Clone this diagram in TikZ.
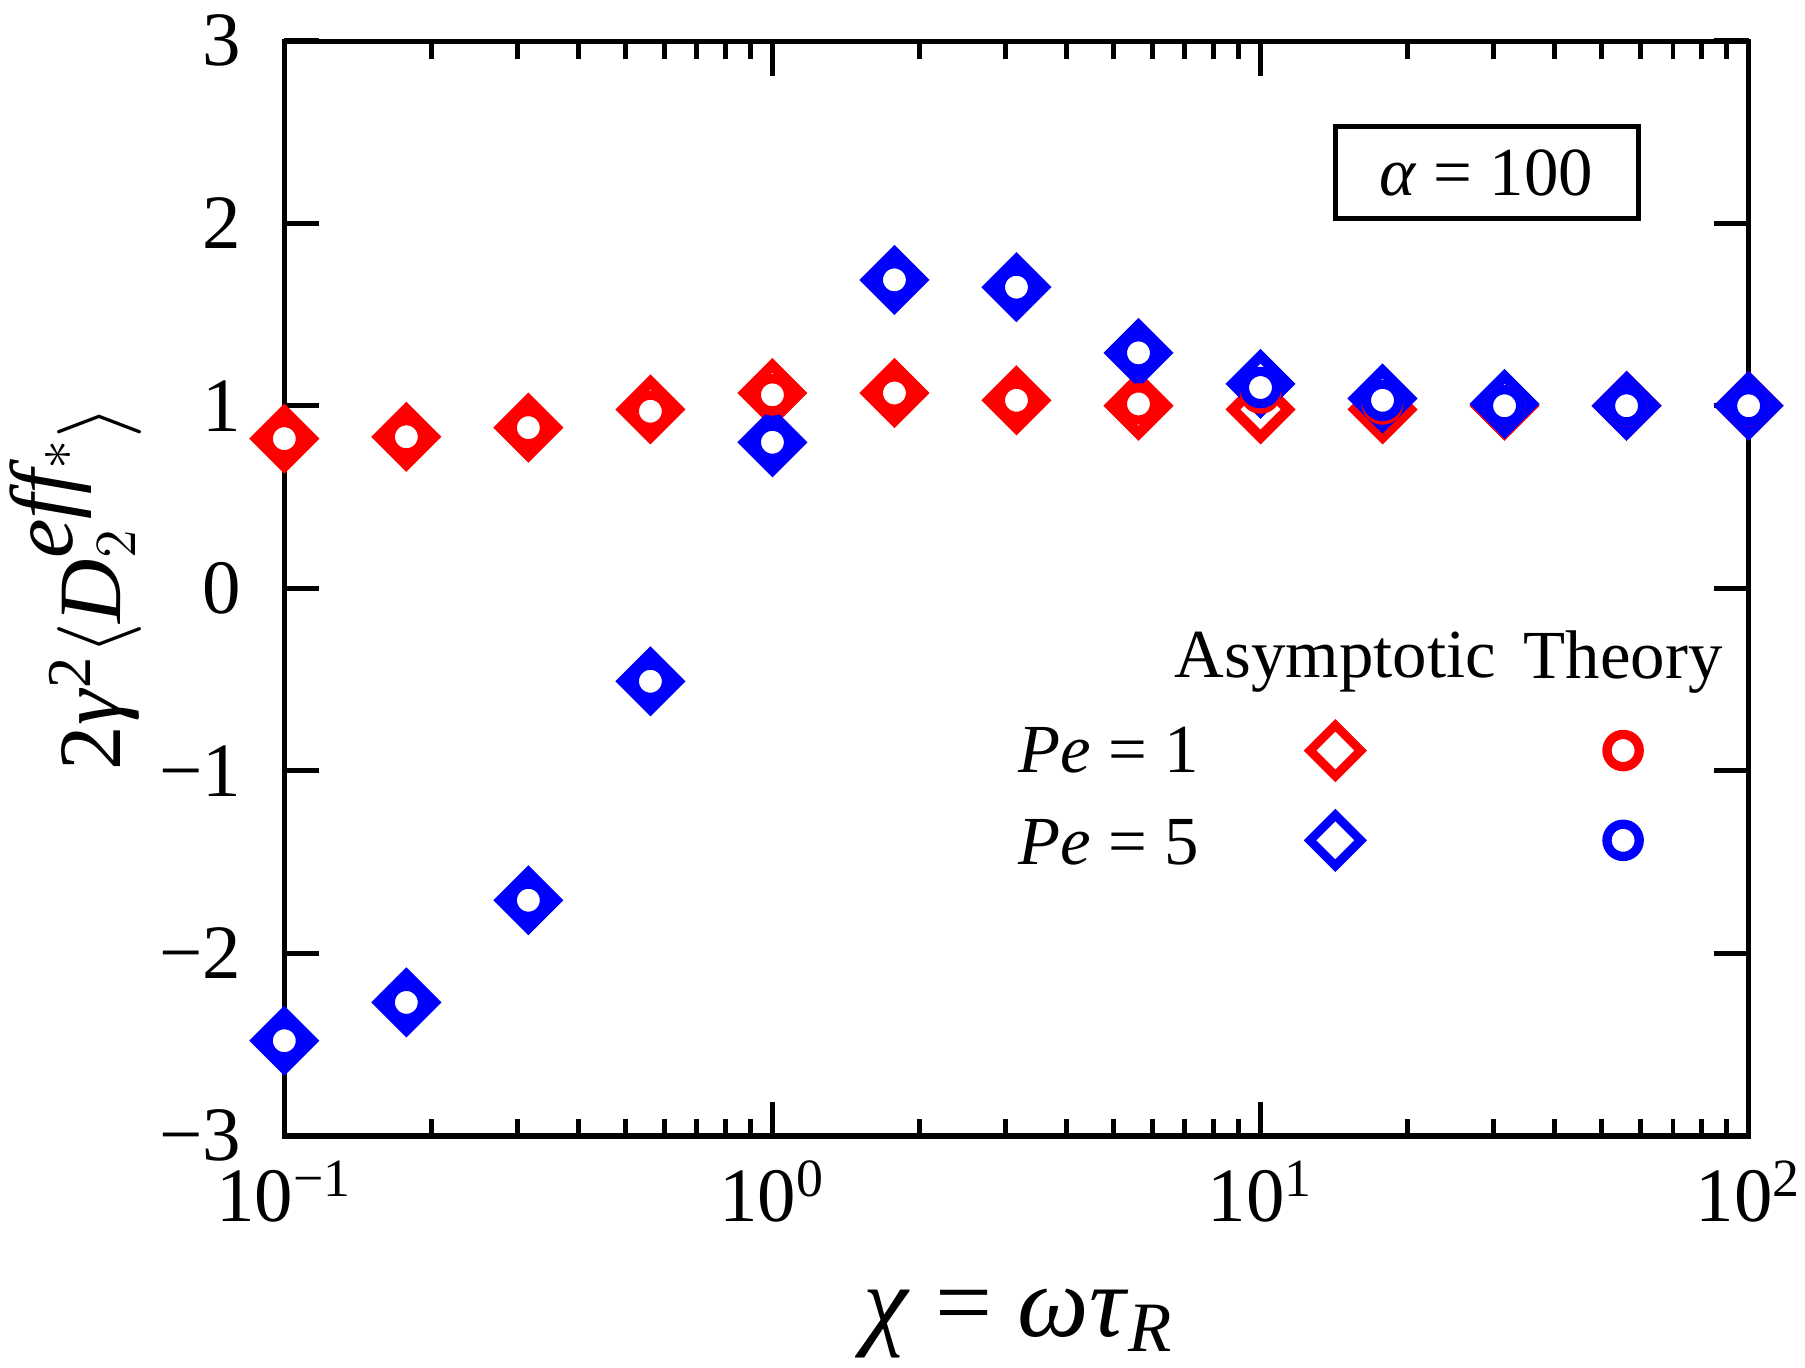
\documentclass[tikz,border=0pt]{standalone}
\usepackage{fontspec}
\setmainfont{Liberation Serif}
\begin{document}
\begin{tikzpicture}[x=0.01cm,y=-0.01cm,
  lab/.style={font=\fontsize{17}{20}\selectfont},
  rdia/.style={draw=red,line width=2.6pt,fill=white,line join=miter},
  bdia/.style={draw=blue,line width=2.6pt,fill=white,line join=miter},
  rcir/.style={draw=red,line width=2.3pt,fill=white},
  bcir/.style={draw=blue,line width=2.3pt,fill=white}]
\useasboundingbox (0,0) rectangle (1568,1188);
% ticks
\foreach \d in {0,1,2}{
  \foreach \m in {2,...,9}{
    \pgfmathsetmacro\xx{247+424*(\d+log10(\m))}
    \draw[line width=1.2pt] (\xx,987) -- (\xx,972);
    \draw[line width=1.2pt] (\xx,36) -- (\xx,51);
  }}
\foreach \d in {0,1,2,3}{
  \draw[line width=1.2pt] ({247+424*\d},987) -- ({247+424*\d},957);
  \draw[line width=1.2pt] ({247+424*\d},36) -- ({247+424*\d},66);}
\foreach \v in {-3,...,3}{
  \draw[line width=1.2pt] (247,{511-158.5*\v}) -- (277,{511-158.5*\v});
  \draw[line width=1.2pt] (1519,{511-158.5*\v}) -- (1489,{511-158.5*\v});
  \node[lab,font=\fontsize{19}{22}\selectfont,anchor=east] at (222,{511-158.5*\v}) {\ifnum\v<0 −\the\numexpr-\v\relax\else\v\fi};}
\draw[line width=1.4pt] (247,36) rectangle (1519,987);
\foreach \e/\d in {−1/0,0/1,1/2,2/3}
  \node[font=\fontsize{19}{22}\selectfont] at ({247+424*\d},1035) {10\textsuperscript{\e}};
% data
\def\pts{0/0.82/-2.48,1/0.83/-2.27,2/0.88/-1.71,3/0.98/-0.51,4/1.07/0.80,5/1.07/1.69,6/1.03/1.65,7/1.00/1.29,8/0.98/1.12,9/0.98/1.04,10/1.0/1.01,11/1.0/1.0,12/1.0/1.0}
\foreach \k/\r/\b in \pts{
  \draw[rdia] ({247+106*\k},{511-158.5*\r-24}) -- ++(24,24) -- ++(-24,24) -- ++(-24,-24) -- cycle;}
\foreach \k/\r/\b in \pts{
  \draw[bdia] ({247+106*\k},{511-158.5*\b-24}) -- ++(24,24) -- ++(-24,24) -- ++(-24,-24) -- cycle;}
\foreach \k/\r/\b in {0/0.82/-2.48,1/0.83/-2.27,2/0.88/-1.71,3/0.97/-0.51,4/1.06/0.80,5/1.07/1.69,6/1.03/1.65,7/1.01/1.29,8/1.07/1.10,9/1.01/1.03,10/1.0/1.0,11/1.0/1.0,12/1.0/1.0}{
  \draw[rcir] ({247+106*\k},{511-158.5*\r}) circle (14);
  \draw[bcir] ({247+106*\k},{511-158.5*\b}) circle (14);}
% alpha box
\draw[line width=1.2pt] (1160,110) rectangle (1423,190);
\node[lab] at (1291,150) {\textit{α} = 100};
% legend
\node[lab] at (1160,575) {Asymptotic};
\node[lab] at (1410,575) {Theory};
\node[lab] at (963,652) {\textit{Pe} = 1};
\node[lab] at (963,732) {\textit{Pe} = 5};
\draw[draw=red,line width=2.2pt] (1160,630) -- ++(22,22) -- ++(-22,22) -- ++(-22,-22) -- cycle;
\draw[draw=blue,line width=2.2pt] (1160,708) -- ++(22,22) -- ++(-22,22) -- ++(-22,-22) -- cycle;
\draw[rcir] (1410,652) circle (14);
\draw[bcir] (1410,730) circle (14);
% axis labels
\node[font=\fontsize{25}{28}\selectfont] at (885,1150) {\textit{χ} = \textit{ωτ}\textsubscript{\textit{R}}};
\node[rotate=90,font=\fontsize{22}{26}\selectfont] at (66,511) {2\textit{γ}\textsuperscript{2}$\langle$\textit{D}$^{\textit{eff}*}_{2}$$\rangle$};
\end{tikzpicture}
\end{document}
